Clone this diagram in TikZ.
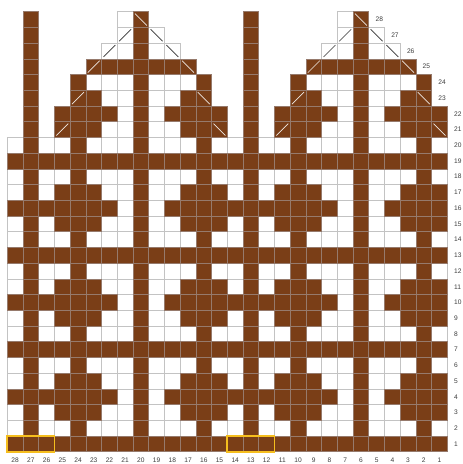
\documentclass[tikz,border=0pt]{standalone}
\usepackage{fontspec}
\setsansfont{Liberation Sans}
\definecolor{knit}{RGB}{122,62,23}
\definecolor{knitline}{RGB}{150,122,108}
\definecolor{gridline}{RGB}{195,195,195}
\definecolor{hilite}{RGB}{245,190,30}
\definecolor{lbl}{RGB}{60,60,60}
\begin{document}
\begin{tikzpicture}[x=0.5cm,y=0.5cm,
  wcell/.style={fill=white,draw=gridline,line width=0.5pt},
  bcell/.style={fill=knit,draw=knitline,line width=0.5pt},
  darkslash/.style={draw=black!80,line width=0.6pt},
  lightslash/.style={draw=white!88!knit,line width=0.6pt},
  numlbl/.style={font=\sffamily\fontsize{6}{7}\selectfont,text=lbl,inner sep=0pt}]
\useasboundingbox (-0.465,-0.78) rectangle (28.935,28.745);

% rows 1-20: full grid of white cells
\foreach \r in {1,...,20}
  \foreach \i in {0,...,27}
    \path[wcell] (\i,\r-1) rectangle ++(1,1);

% rows 1-20: brown cells (same pattern in both halves)
\foreach \h in {0,14}{
  \foreach \r/\ks in {
      1/{0,1,2,3,4,5,6,7,8,9,10,11,12,13},
      2/{1,4,8,12},
      3/{1,3,4,5,8,11,12,13},
      4/{0,1,2,3,4,5,6,8,10,11,12,13},
      5/{1,3,4,5,8,11,12,13},
      6/{1,4,8,12},
      7/{0,1,2,3,4,5,6,7,8,9,10,11,12,13},
      8/{1,4,8,12},
      9/{1,3,4,5,8,11,12,13},
      10/{0,1,2,3,4,5,6,8,10,11,12,13},
      11/{1,3,4,5,8,11,12,13},
      12/{1,4,8,12},
      13/{0,1,2,3,4,5,6,7,8,9,10,11,12,13},
      14/{1,4,8,12},
      15/{1,3,4,5,8,11,12,13},
      16/{0,1,2,3,4,5,6,8,10,11,12,13},
      17/{1,3,4,5,8,11,12,13},
      18/{1,4,8,12},
      19/{0,1,2,3,4,5,6,7,8,9,10,11,12,13},
      20/{1,4,8,12}}{
    \foreach \k in \ks
      \path[bcell] (\h+\k,\r-1) rectangle ++(1,1);
  }
  % rows 21-28: white cells
  \foreach \r/\ks in {21/{6,7,9,10},22/{7,9},23/{6,7,9,10},24/{5,6,7,9,10,11},
                      26/{6,7,9,10},27/{7,9},28/{7}}{
    \foreach \k in \ks
      \path[wcell] (\h+\k,\r-1) rectangle ++(1,1);
  }
  % rows 21-28: brown cells
  \foreach \r/\ks in {21/{1,3,4,5,8,11,12,13},22/{1,3,4,5,6,8,10,11,12,13},
                      23/{1,4,5,8,11,12},24/{1,4,8,12},25/{1,5,6,7,8,9,10,11},
                      26/{1,8},27/{1,8},28/{1,8}}{
    \foreach \k in \ks
      \path[bcell] (\h+\k,\r-1) rectangle ++(1,1);
  }
  % decrease symbols
  \foreach \k/\r in {3/21,4/23,5/25}
    \draw[lightslash] (\h+\k+0.12,\r-0.88) -- (\h+\k+0.88,\r-0.12);
  \foreach \k/\r in {13/21,12/23,11/25,8/28}
    \draw[lightslash] (\h+\k+0.12,\r-0.12) -- (\h+\k+0.88,\r-0.88);
  \foreach \k/\r in {6/26,7/27}
    \draw[darkslash] (\h+\k+0.12,\r-0.88) -- (\h+\k+0.88,\r-0.12);
  \foreach \k/\r in {10/26,9/27}
    \draw[darkslash] (\h+\k+0.12,\r-0.12) -- (\h+\k+0.88,\r-0.88);
}

% highlighted stitches
\draw[hilite,line width=1.6pt] (0,0) rectangle (3,1);
\draw[hilite,line width=1.6pt] (14,0) rectangle (17,1);

% column numbers
\foreach \i in {0,...,27}{
  \pgfmathtruncatemacro{\n}{28-\i}
  \node[numlbl] (col\n) at (\i+0.5,-0.53) {\n};
}
% row numbers
\foreach \r in {1,...,22}
  \node[numlbl,anchor=west] (row\r) at (28.42,\r-0.5) {\r};
\foreach \r/\x in {23/27,24/27,25/26,26/25,27/24,28/23}
  \node[numlbl,anchor=west] (row\r) at (\x+0.42,\r-0.5) {\r};
\end{tikzpicture}
\end{document}
